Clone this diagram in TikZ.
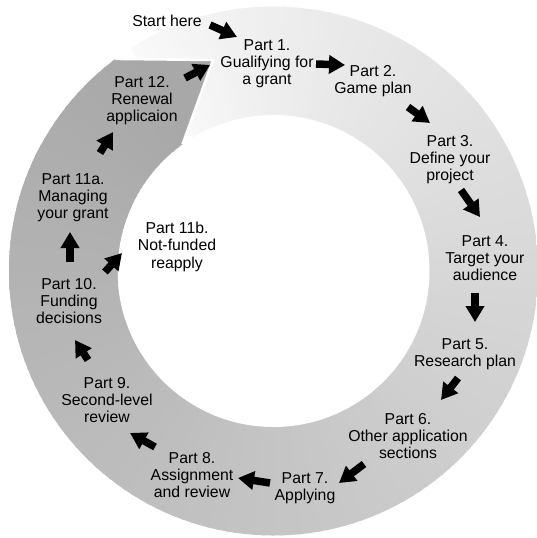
\documentclass[tikz,border=0pt]{standalone}
\usepackage{fontspec}
\setmainfont{Liberation Sans}
\usetikzlibrary{arrows.meta}
\begin{document}
\begin{tikzpicture}[x=1pt,y=-1pt,
  lbl/.style={font=\fontsize{15.8}{17.2}\selectfont, align=center, anchor=north, inner sep=0pt, text=black},
  barrow/.style={line width=7.5pt, -{Triangle[length=16pt,width=18pt]}, black},
  wedge/.style={shift={(C)}}
]
\useasboundingbox (0,0) rectangle (536,538);
\coordinate (C) at (273.5,271);
\def\Ro{264.5}
\def\Ri{156}
% ring body with angular gradient
\begin{scope}
  \clip (C) circle[radius=\Ro];
  \begin{scope}
    \clip (92,-8) -- (214.5,170.5) -- (214.5,300) -- (560,300) -- (560,-20) -- (92,-20) -- cycle;
    \foreach \a in {226,228,...,320} {
      \pgfmathsetmacro\t{max(\a+1-238,0.01)}
      \pgfmathsetmacro\g{(250-82*(\t/360)^0.8)/255}
      \definecolor{wc}{gray}{\g}
      \fill[wc, wedge] (0,0) -- (\a:290) -- (\a+2.6:290) -- cycle;
    }
  \end{scope}
  \foreach \a in {318,320,...,566} {
    \pgfmathsetmacro\t{max(\a+1-238,0.01)}
    \pgfmathsetmacro\g{(250-82*(\t/360)^0.8)/255}
    \definecolor{wc}{gray}{\g}
    \fill[wc, wedge] (0,0) -- (\a:290) -- (\a+2.6:290) -- cycle;
  }
\end{scope}
\fill[white] (C) circle[radius=\Ri];
% head of the ring (Part 12)
\begin{scope}
  \clip plot[domain=175:233.3,samples=40] ({273.5+\Ro*cos(\x)},{271+\Ro*sin(\x)})
    -- (213,60) -- (182.5,144.3)
    -- plot[domain=234.3:175,samples=40] ({273.5+\Ri*cos(\x)},{271+\Ri*sin(\x)}) -- cycle;
  \foreach \a in {530,532,...,616} {
    \pgfmathsetmacro\t{min(\a+1-238,360)}
    \pgfmathsetmacro\g{(250-82*(\t/360)^0.8)/255}
    \definecolor{wc}{gray}{\g}
    \fill[wc, wedge] (0,0) -- (\a:290) -- (\a+2.6:290) -- cycle;
  }
\end{scope}
\draw[white, line width=2.5pt] ({273.5+\Ro*cos(233.3)},{271+\Ro*sin(233.3)}) -- (213,60) -- (182.5,144.3);
% labels
\node[lbl] (start) at (167,15) {Start here};
\node[lbl] (p1) at (267,39) {Part 1.\\Gualifying for\\a grant};
\node[lbl] (p2) at (373,65) {Part 2.\\Game plan};
\node[lbl] (p3) at (450,135) {Part 3.\\Define your\\project};
\node[lbl] (p4) at (485,235) {Part 4.\\Target your\\audience};
\node[lbl] (p5) at (465,338) {Part 5.\\Research plan};
\node[lbl] (p6) at (408,413) {Part 6.\\Other application\\sections};
\node[lbl] (p7) at (305,472) {Part 7.\\Applying};
\node[lbl] (p8) at (192,452) {Part 8.\\Assignment\\and review};
\node[lbl] (p9) at (107,377) {Part 9.\\Second-level\\review};
\node[lbl] (p10) at (69,278) {Part 10.\\Funding\\decisions};
\node[lbl] (p11a) at (73,173) {Part 11a.\\Managing\\your grant};
\node[lbl] (p11b) at (177,222) {Part 11b.\\Not-funded\\reapply};
\node[lbl] (p12) at (142,76) {Part 12.\\Renewal\\applicaion};
% arrow end points
\coordinate (a1s) at (210,25);  \coordinate (a1e) at (237,37);
\coordinate (a2s) at (316,64);  \coordinate (a2e) at (345,65);
\coordinate (a3s) at (408,107); \coordinate (a3e) at (430,123);
\coordinate (a4s) at (461,190); \coordinate (a4e) at (480,217);
\coordinate (a5s) at (475,293); \coordinate (a5e) at (475,322);
\coordinate (a6s) at (458,378); \coordinate (a6e) at (441,400);
\coordinate (a7s) at (364,464); \coordinate (a7e) at (339,483);
\coordinate (a8s) at (270,483); \coordinate (a8e) at (238,478);
\coordinate (a9s) at (155,447); \coordinate (a9e) at (130,433);
\coordinate (a10s) at (88,360); \coordinate (a10e) at (75,340);
\coordinate (a11s) at (70,262); \coordinate (a11e) at (70,232);
\coordinate (a12s) at (105,272); \coordinate (a12e) at (122,253);
\coordinate (a13s) at (100,153); \coordinate (a13e) at (113,132);
\coordinate (a14s) at (185,78); \coordinate (a14e) at (210,65);
\foreach \i in {1,...,14} {
  \draw[barrow] (a\i s) -- (a\i e);
}
\end{tikzpicture}
\end{document}
